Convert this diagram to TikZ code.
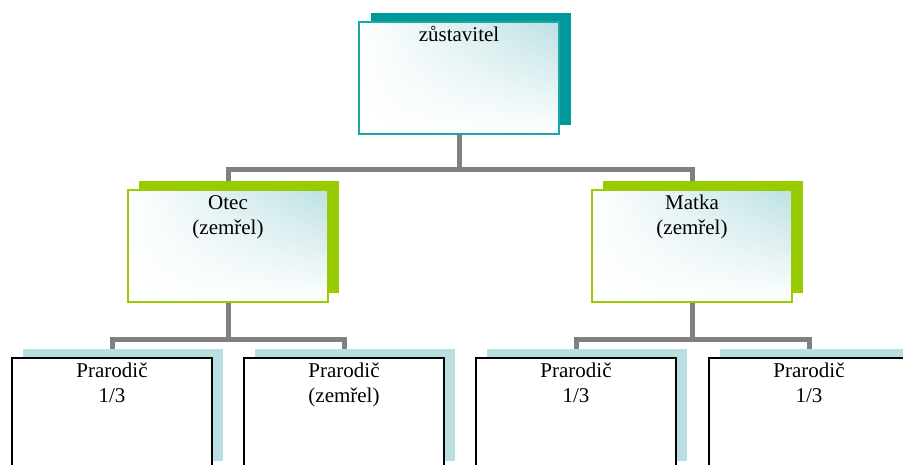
\documentclass[tikz,border=0pt]{standalone}
\usepackage{fontspec}
\setmainfont{Liberation Serif}
\usetikzlibrary{shadows,shadings,backgrounds}

\definecolor{rootteal}{HTML}{009999}
\definecolor{rootedge}{HTML}{1AA7A7}
\definecolor{parentgreen}{HTML}{99CC00}
\definecolor{childblue}{HTML}{B9DFE2}
\definecolor{paleteal}{HTML}{BCE0E3}
\definecolor{linkgray}{HTML}{808080}

\newcommand{\boxtext}[1]{\parbox[t][108pt][t]{196pt}{\centering\strut #1}}

\begin{document}
\begin{tikzpicture}[x=1pt,y=1pt,
  person/.style={rectangle, anchor=north west, minimum width=200pt, minimum height=112pt,
    inner sep=2pt, font=\fontsize{21}{25}\selectfont},
  paleshade/.style={shade, shading=bilinear interpolation, upper left=white,
    upper right=paleteal, lower left=white, lower right=white},
  rootbox/.style={person, paleshade, draw=rootedge, line width=2pt,
    general shadow={shadow xshift=12pt, shadow yshift=9pt, fill=rootteal}},
  parentbox/.style={person, paleshade, draw=parentgreen, line width=2pt,
    general shadow={shadow xshift=11pt, shadow yshift=9pt, fill=parentgreen}},
  childbox/.style={person, fill=white, draw=black, line width=2pt,
    general shadow={shadow xshift=11pt, shadow yshift=9pt, fill=childblue}},
  link/.style={draw=linkgray, line width=5pt}]
\useasboundingbox (0,0) rectangle (903,-464);

% Deceased
\node[rootbox] (root) at (358,-21) {\boxtext{zůstavitel}};

% Parents
\node[parentbox] (otec) at (127,-189) {\boxtext{Otec\\(zemřel)}};
\node[parentbox] (matka) at (591,-189) {\boxtext{Matka\\(zemřel)}};

% Grandparents
\node[childbox] (prarodicA) at (11,-357) {\boxtext{Prarodič\\1/3}};
\node[childbox] (prarodicB) at (243,-357) {\boxtext{Prarodič\\(zemřel)}};
\node[childbox] (prarodicC) at (475,-357) {\boxtext{Prarodič\\1/3}};
\node[childbox] (prarodicD) at (708,-357) {\boxtext{Prarodič\\1/3}};

% Links
\begin{scope}[on background layer]
\draw[link] (root.south) -- ++(0,-34) -| (otec.north);
\draw[link] (root.south) -- ++(0,-34) -| (matka.north);
\draw[link] (otec.south) -- ++(0,-36) -| (prarodicA.north);
\draw[link] (otec.south) -- ++(0,-36) -| (prarodicB.north);
\draw[link] (matka.south) -- ++(0,-36) -| (prarodicC.north);
\draw[link] (matka.south) -- ++(0,-36) -| (prarodicD.north);
\end{scope}
\end{tikzpicture}
\end{document}
